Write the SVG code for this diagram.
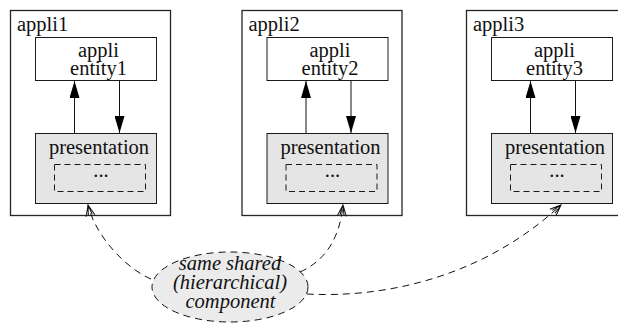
<svg xmlns="http://www.w3.org/2000/svg" width="618" height="324" viewBox="0 0 618 324">
  <style>
    .box { fill: #ffffff; stroke: #1a1a1a; stroke-width: 1; }
    .outer { fill: #ffffff; stroke: #262626; stroke-width: 1.3; }
    .pres { fill: #e5e5e5; stroke: #1a1a1a; stroke-width: 1; }
    .inner { fill: none; stroke: #1a1a1a; stroke-width: 1; stroke-dasharray: 6 4; }
    .txt { font-family: "Liberation Serif", "Times New Roman", serif; font-size: 20.5px; fill: #111111; }
    .mid { text-anchor: middle; }
    .ital { font-style: italic; }
    .flow { fill: none; stroke: #111111; stroke-width: 1; }
    .share { fill: none; stroke: #111111; stroke-width: 1; stroke-dasharray: 7 5; }
    .bubble { fill: #ebebeb; stroke: #111111; stroke-width: 1; stroke-dasharray: 7 5; }
  </style>
  <defs>
    <marker id="solid" markerUnits="userSpaceOnUse" viewBox="0 0 17 10" refX="17" refY="5" markerWidth="17" markerHeight="10" orient="auto">
      <path d="M0,0 L17,5 L0,10 Z" fill="#000000" stroke="none"/>
    </marker>
    <marker id="open" markerUnits="userSpaceOnUse" viewBox="-1 -1 13 11" refX="11" refY="4.5" markerWidth="13" markerHeight="11" orient="auto">
      <path d="M0,0 L11,4.5 L0,9 M1,2.5 L11,4.5 L1,6.5" fill="none" stroke="#111111" stroke-width="1" stroke-dasharray="none"/>
    </marker>
  </defs>

  <!-- application 1 -->
  <g id="appli1">
    <rect class="outer" x="10.5" y="10.5" width="160" height="205"/>
    <text class="txt" x="17" y="30.5">appli1</text>
  </g>
  <g id="entity1">
    <rect class="box" x="35.5" y="37.5" width="121" height="43"/>
    <text class="txt mid" x="98.5" y="56.5">appli</text>
    <text class="txt mid" x="98.5" y="74.5">entity1</text>
  </g>
  <g id="presentation1">
    <rect class="pres" x="35.5" y="133.5" width="121" height="70"/>
    <text class="txt mid" x="99" y="153.5">presentation</text>
    <rect class="inner" x="54.5" y="164.5" width="91" height="27"/>
    <text class="txt mid" x="101" y="177">...</text>
  </g>

  <!-- application 2 -->
  <g id="appli2">
    <rect class="outer" x="242" y="10.5" width="160" height="205"/>
    <text class="txt" x="248.5" y="30.5">appli2</text>
  </g>
  <g id="entity2">
    <rect class="box" x="267" y="37.5" width="121" height="43"/>
    <text class="txt mid" x="330" y="56.5">appli</text>
    <text class="txt mid" x="330" y="74.5">entity2</text>
  </g>
  <g id="presentation2">
    <rect class="pres" x="267" y="133.5" width="121" height="70"/>
    <text class="txt mid" x="330.5" y="153.5">presentation</text>
    <rect class="inner" x="286" y="164.5" width="91" height="27"/>
    <text class="txt mid" x="332.5" y="177">...</text>
  </g>

  <!-- application 3 -->
  <g id="appli3">
    <rect class="outer" x="466.5" y="10.5" width="160" height="205"/>
    <text class="txt" x="473" y="30.5">appli3</text>
  </g>
  <g id="entity3">
    <rect class="box" x="491.5" y="37.5" width="121" height="43"/>
    <text class="txt mid" x="554.5" y="56.5">appli</text>
    <text class="txt mid" x="554.5" y="74.5">entity3</text>
  </g>
  <g id="presentation3">
    <rect class="pres" x="491.5" y="133.5" width="121" height="70"/>
    <text class="txt mid" x="555" y="153.5">presentation</text>
    <rect class="inner" x="510.5" y="164.5" width="91" height="27"/>
    <text class="txt mid" x="557" y="177">...</text>
  </g>

  <!-- shared component -->
  <g id="shared-component">
    <ellipse class="bubble" cx="230" cy="287" rx="78" ry="35"/>
    <text class="txt mid ital" x="230" y="270">same shared</text>
    <text class="txt mid ital" x="230" y="288.5">(hierarchical)</text>
    <text class="txt mid ital" x="230.5" y="308">component</text>
  </g>

  <!-- connectors -->
  <g id="connectors">
    <line class="flow" x1="74.5" y1="133" x2="74.5" y2="81" marker-end="url(#solid)"/>
    <line class="flow" x1="119.5" y1="81" x2="119.5" y2="133" marker-end="url(#solid)"/>
    <line class="flow" x1="306" y1="133" x2="306" y2="81" marker-end="url(#solid)"/>
    <line class="flow" x1="351" y1="81" x2="351" y2="133" marker-end="url(#solid)"/>
    <line class="flow" x1="530.5" y1="133" x2="530.5" y2="81" marker-end="url(#solid)"/>
    <line class="flow" x1="575.5" y1="81" x2="575.5" y2="133" marker-end="url(#solid)"/>

    <path class="share" d="M151,279 C125,268 95,235 88,205" marker-end="url(#open)"/>
    <path class="share" d="M300,272 Q338,255 343,205" marker-end="url(#open)"/>
    <path class="share" d="M307,294 C380,298 480,280 561,205" marker-end="url(#open)"/>
  </g>
</svg>
